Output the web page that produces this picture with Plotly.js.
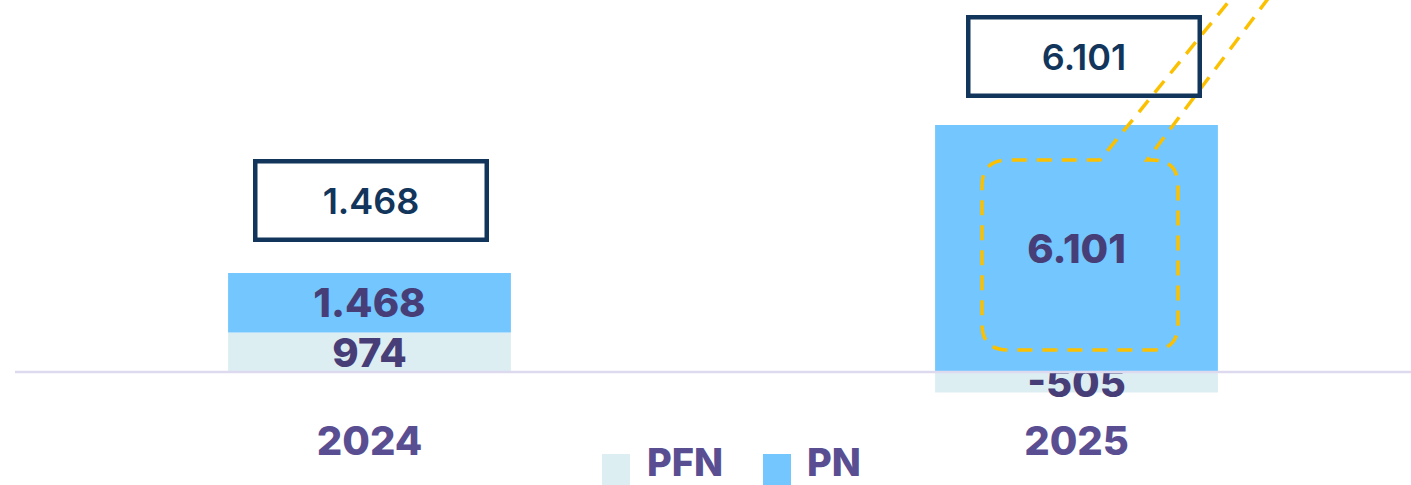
<!DOCTYPE html>
<html>
<head>
<meta charset="utf-8">
<script src="https://cdn.plot.ly/plotly-3.0.1.min.js"></script>
<style>html,body{margin:0;padding:0;background:#fff;}#chart{width:1411px;height:485px;}</style>
</head>
<body>
<div id="chart"></div>
<script>
// ---- data ----
const categories = ['2024', '2025'];
const seriesNames = ['PFN', 'PN'];
const pfnValues = [974, -505];
const pnValues = [1468, 6101];
const boxValues = [1468, 6101];

// ---- styling / layout constants ----
const W = 1411, H = 485;
const M = {l: 16, r: 0, t: 0, b: 71};
const PW = W - M.l - M.r, PH = H - M.t - M.b;
const colPFN = '#DDEEF3', colPN = '#73C6FE';
const labelCol = '#473E78', axisCol = '#5A4E92', navy = '#12355B', yellow = '#FBC100';
const FONT = 'Inter, "Open Sans", sans-serif';

function fmt(v) {
  const s = Math.abs(v).toString().replace(/\B(?=(\d{3})+(?!\d))/g, '.');
  return (v < 0 ? '-' : '') + s;
}
// pixel -> paper helpers for decorations
const px = x => (x - M.l) / PW;
const py = y => (M.t + PH - y) / PH;

const barCommon = {
  type: 'bar', x: categories, width: 0.4,
  textposition: 'inside', insidetextanchor: 'middle', textangle: 0,
  constraintext: 'none', cliponaxis: false,
  insidetextfont: {family: FONT, size: 40, weight: 800, color: labelCol},
  hoverinfo: 'skip', showlegend: false
};
const traces = [
  Object.assign({}, barCommon, {name: seriesNames[0], y: pfnValues, text: pfnValues.map(fmt), marker: {color: colPFN}}),
  Object.assign({}, barCommon, {name: seriesNames[1], y: pnValues, text: pnValues.map(fmt), marker: {color: colPN}})
];

// stacked tops (positive side)
const tops = categories.map((c, i) => Math.max(pfnValues[i], 0) + Math.max(pnValues[i], 0));
const boxShiftX = [1, 7], boxShiftY = [31, 27];

const annotations = categories.map((c, i) => ({
  x: i, y: tops[i], xref: 'x', yref: 'y', yanchor: 'bottom', xanchor: 'center',
  xshift: boxShiftX[i], yshift: boxShiftY[i],
  text: fmt(boxValues[i]), showarrow: false,
  font: {family: FONT, size: 36, weight: 600, color: navy},
  bordercolor: navy, borderwidth: 4.5, borderpad: 0, width: 227, height: 74,
  bgcolor: 'rgba(255,255,255,0)'
}));

// manual legend
const legendItems = [
  {name: seriesNames[0], color: colPFN, sx: 602, tx: 645},
  {name: seriesNames[1], color: colPN, sx: 763, tx: 805}
];
legendItems.forEach(it => {
  annotations.push({
    xref: 'paper', yref: 'paper', x: px(it.tx), y: py(462), xanchor: 'left', yanchor: 'middle',
    text: it.name, showarrow: false,
    font: {family: FONT, size: 38, weight: 800, color: axisCol}
  });
});

const shapes = [
  // zero line
  {type: 'line', xref: 'paper', yref: 'y', x0: px(15), x1: 1.01, y0: 0, y1: 0,
   line: {color: '#DDD9EE', width: 2.5}, layer: 'above'}
];
legendItems.forEach(it => {
  shapes.push({type: 'rect', xref: 'paper', yref: 'paper', x0: px(it.sx), x1: px(it.sx + 28),
    y0: py(454), y1: py(490), fillcolor: it.color, line: {width: 0}, layer: 'above'});
});
// yellow dashed callout
function P(x, y) { return px(x).toFixed(5) + ',' + py(y).toFixed(5); }
const r = 26;
const L = 982, R = 1178, T = 160, B = 350;
const pathStr = [
  'M' + P(1243, -16),
  'L' + P(1100, T),
  'L' + P(L + r, T),
  'Q' + P(L, T) + ' ' + P(L, T + r),
  'L' + P(L, B - r),
  'Q' + P(L, B) + ' ' + P(L + r, B),
  'L' + P(R - r, B),
  'Q' + P(R, B) + ' ' + P(R, B - r),
  'L' + P(R, T + r),
  'Q' + P(R, T) + ' ' + P(R - r, T),
  'L' + P(1147, T),
  'L' + P(1279, -16)
].join(' ');
shapes.push({type: 'path', xref: 'paper', yref: 'paper', path: pathStr,
  line: {color: yellow, width: 3.5, dash: '15px,10px'}, fillcolor: 'rgba(0,0,0,0)', layer: 'above'});

const layout = {
  width: W, height: H,
  margin: M,
  paper_bgcolor: '#fff', plot_bgcolor: '#fff',
  barmode: 'relative',
  showlegend: false,
  xaxis: {
    type: 'category', range: [-0.5, -0.5 + PW / 707],
    showgrid: false, zeroline: false, showline: false, ticks: '',
    tickfont: {family: FONT, size: 40, weight: 800, color: axisCol}
  },
  yaxis: {
    range: [-(PH - 372) / 40.5 * 1000, 372 / 40.5 * 1000],
    showgrid: false, zeroline: false, showline: false, showticklabels: false, ticks: ''
  },
  annotations: annotations,
  shapes: shapes,
  font: {family: FONT}
};

Plotly.newPlot('chart', traces, layout, {displayModeBar: false, staticPlot: true});
</script>
</body>
</html>
